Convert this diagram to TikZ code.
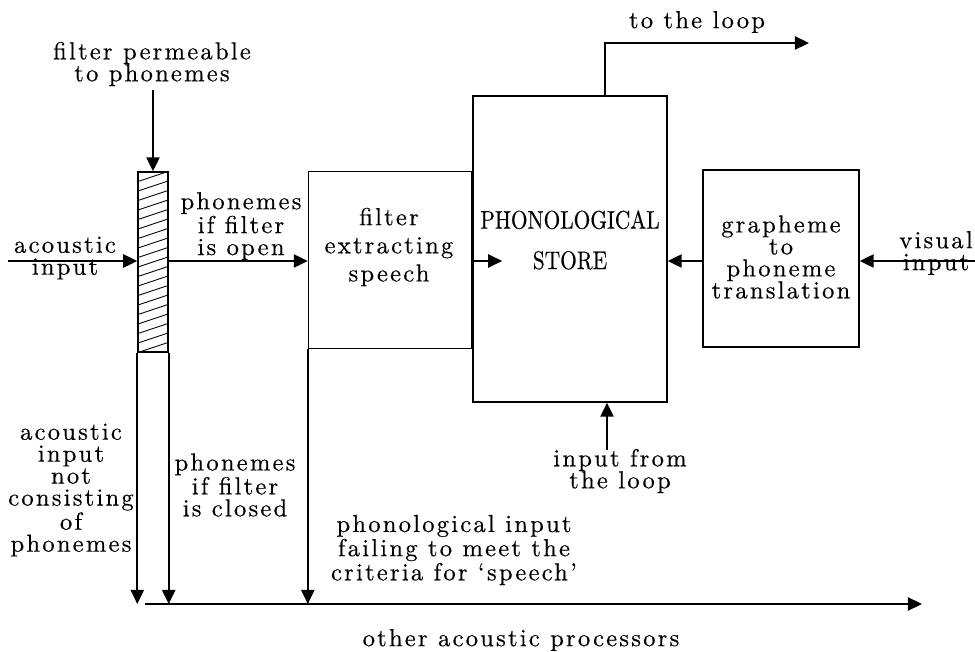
\documentclass[tikz,border=0pt]{standalone}
\usepackage{fontspec}
\setmainfont{lmroman10-regular}[Extension=.otf, LetterSpace=9, FakeBold=0.4]
\newfontfamily\storefont{lmroman10-regular}[Extension=.otf, FakeStretch=0.84, FakeBold=0.4]
\usetikzlibrary{arrows.meta}
\tikzset{
  lbl/.style={align=center, inner sep=0pt, font=\fontsize{14}{12.5}\selectfont},
  blk/.style={draw, line width=.8pt, inner sep=0pt},
  arr/.style={line width=1pt, -{Triangle[length=8pt,width=7.5pt]}},
}
\begin{document}
\begin{tikzpicture}[x=.02cm, y=-.02cm]
   \useasboundingbox (0,0) rectangle (975,652);

   \node[blk, minimum width=3.26cm, minimum height=3.54cm] (filt) at (390,260) {};
   \node[blk, minimum width=3.88cm, minimum height=6.12cm] (store) at (570,249) {};
   \node[blk, minimum width=3.12cm, minimum height=3.54cm] (graph) at (781,258.5) {};
   \node[blk, minimum width=.6cm, minimum height=3.6cm] (bar) at (153,262) {};

   \begin{scope}
     \clip (bar.south west) rectangle (bar.north east);
     \foreach \k in {0,...,21}
     \draw[line width=.5pt] (138,172+9.5*\k) -- ++(30,-10);
   \end{scope}

   \node[lbl] (permtxt) at (152,64) {filter permeable\\to phonemes};
   \node[lbl] (aintxt) at (65,258) {acoustic\\input};
   \node[lbl] (opentxt) at (241,226) {phonemes\\if filter\\is open};
   \node[lbl, font=\fontsize{14}{16}\selectfont] (filttxt) at (389,247) {filter\\extracting\\speech};
   \node[lbl, font=\storefont\fontsize{14.5}{23}\selectfont] (storetxt) at (570,240) {PHONOLOGICAL\\STORE};
   \node[lbl] (graphtxt) at (781,257) {grapheme\\to\\phoneme\\translation};
   \node[lbl] (vintxt) at (936,253) {visual\\input};
   \node[lbl] (looptxt) at (697,22) {to the loop};
   \node[lbl] (lintxt) at (620,471) {input from\\the loop};
   \node[lbl] (nottxt) at (71,490) {acoustic\\input\\not\\consisting\\of\\phonemes};
   \node[lbl] (closedtxt) at (235,485) {phonemes\\if filter\\is closed};
   \node[lbl] (failtxt) at (454,550) {phonological input\\failing to meet the\\criteria for `speech'};
   \node[lbl] (othertxt) at (521,640) {other acoustic processors};

   \coordinate (ain) at (8,261);
   \coordinate (vin) at (975,261);
   \coordinate (permin) at (153,90);
   \coordinate (loopout) at (809,43);
   \coordinate (loopin) at (607,450);
   \coordinate (bl) at (145,604);
   \coordinate (br) at (922,604);

   \draw[arr] (ain) -- (ain -| bar.west);
   \draw[arr] (permin) -- (bar.north);
   \draw[arr] (bar.east |- ain) -- (filt.west |- ain);
   \draw[arr] (filt.east |- ain) -- ++(30,0);
   \draw[arr] (graph.west |- ain) -- (store.east |- ain);
   \draw[arr] (vin) -- (vin -| graph.east);
   \draw[arr] ([xshift=.7cm]store.north) |- (loopout);
   \draw[arr] (loopin) -- (loopin |- store.south);

   \draw[arr] (bar.south west) -- (bar.south west |- bl);
   \draw[arr] (bar.south east) -- (bar.south east |- bl);
   \draw[arr] (filt.south west) -- (filt.south west |- bl);
   \draw[arr] (bl) -- (br);

\end{tikzpicture}
\end{document}
